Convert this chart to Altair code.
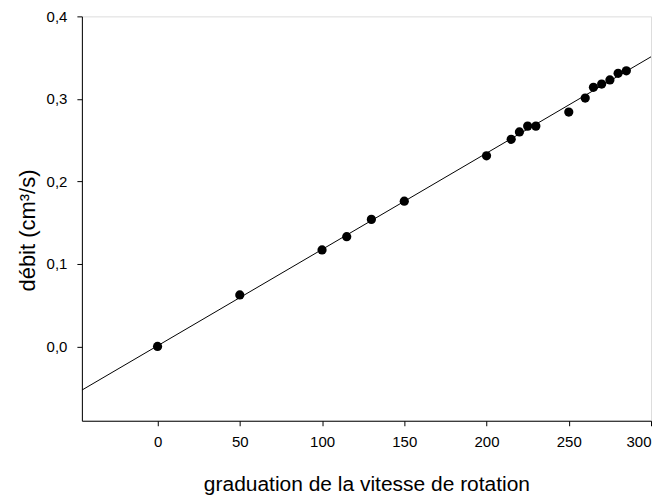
import altair as alt
import pandas as pd

graduation = [0, 50, 100, 115, 130, 150, 200, 215, 220, 225, 230, 250, 260, 265, 270, 275, 280, 285]
debit = [0.0, 0.0625, 0.117, 0.133, 0.154, 0.176, 0.231, 0.251, 0.260, 0.267, 0.267, 0.284,
         0.301, 0.314, 0.318, 0.323, 0.331, 0.334]
x_ticks = [0, 50, 100, 150, 200, 250, 300]
y_ticks = [0.0, 0.1, 0.2, 0.3, 0.4]

df = pd.DataFrame({"g": graduation, "d": debit})

FONT = "Liberation Sans"

x_enc = alt.X("g:Q", scale=alt.Scale(domain=[-46, 300], nice=False, zero=False),
              axis=alt.Axis(values=x_ticks, title="graduation de la vitesse de rotation",
                            grid=False, tickSize=5, tickColor="black", domainColor="black",
                            labelFont=FONT, labelFontSize=15, labelColor="black", labelPadding=9,
                            titleFont=FONT, titleFontSize=21, titleFontWeight="normal",
                            titleColor="black", titleBaseline="alphabetic", titleY=70))
y_enc = alt.Y("d:Q", scale=alt.Scale(domain=[-0.09, 0.4], nice=False, zero=False),
              axis=alt.Axis(values=y_ticks, title="débit (cm³/s)",
                            labelExpr="replace(format(datum.value, '.1f'), '.', ',')",
                            grid=False, tickSize=5, tickColor="black", domainColor="black",
                            labelFont=FONT, labelFontSize=15, labelColor="black", labelPadding=10,
                            titleFont=FONT, titleFontSize=22, titleFontWeight="normal",
                            titleColor="black", titleBaseline="middle", titleX=-54, titleY=214))

points = alt.Chart(df).mark_circle(color="black", opacity=1, size=85).encode(x=x_enc, y=y_enc)

fit = alt.Chart(df).transform_regression("g", "d", method="linear", extent=[-46, 300]).mark_line(
    color="black", strokeWidth=1, clip=True).encode(x="g:Q", y="d:Q")

chart = alt.layer(fit, points).properties(
    width=570, height=405,
    autosize=alt.AutoSizeParams(type="none"),
    padding={"left": 74, "top": 8, "right": 8, "bottom": 78},
).configure_view(stroke="black", strokeWidth=1).configure(background="white")

chart.save("out.html", embed_options={"renderer": "svg", "actions": False})
